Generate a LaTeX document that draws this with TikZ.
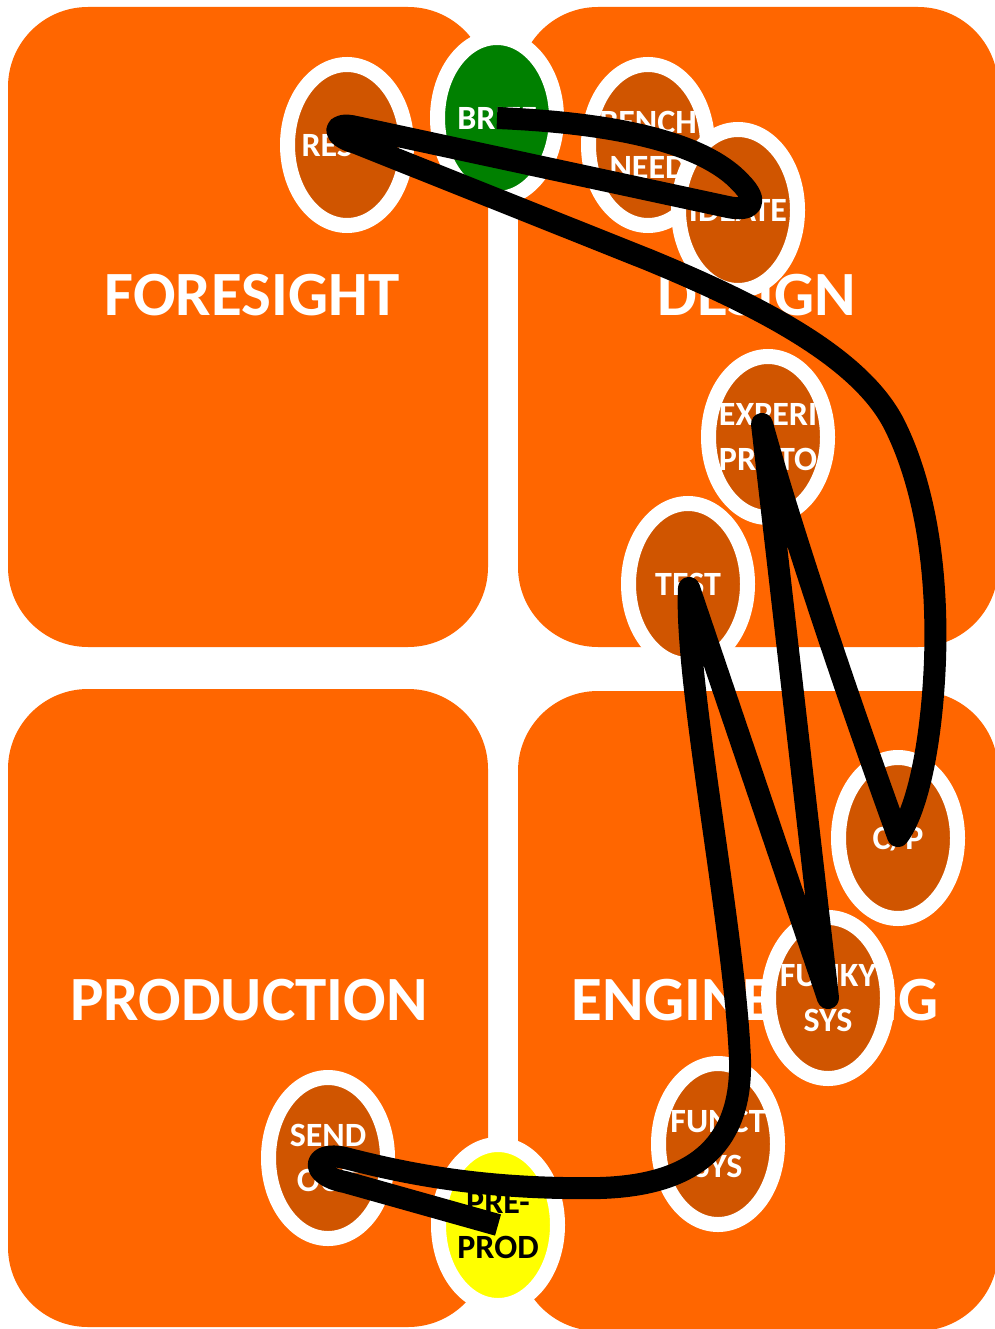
\documentclass[tikz,border=0pt]{standalone}
\usepackage{fontspec}
\setmainfont{Carlito}
\usetikzlibrary{shapes.geometric}
\definecolor{quadorange}{HTML}{FF6600}
\definecolor{stagerust}{HTML}{D05500}
\definecolor{briefgreen}{HTML}{008000}
\definecolor{prodyellow}{HTML}{FFFF00}

\begin{document}
\begin{tikzpicture}[x=1pt,y=-1pt]
	\tikzset{
		quad/.style={fill=quadorange, rounded corners=80pt},
		quadlabel/.style={white, font=\fontsize{63}{63}\selectfont\bfseries, anchor=base, inner sep=0pt},
		stage/.style={ellipse, draw=white, line width=15pt, fill=stagerust, minimum width=119pt, minimum height=161pt, inner sep=0pt},
		stagetext/.style={white, font=\fontsize{34}{45}\selectfont\bfseries, align=center, inner sep=0pt},
		scribble/.style={line width=22pt, line join=round}
	}
	\useasboundingbox[fill=white] (0,0) rectangle (994,1329);

	% the four quadrants
	\fill[quad] (8,7) rectangle (488,647);
	\fill[quad] (518,7) rectangle (998,647);
	\fill[quad] (8,689) rectangle (488,1327);
	\fill[quad] (518,691) rectangle (998,1331);

	\node[quadlabel] (foresight) at (252,316) {FORESIGHT};
	\node[quadlabel] (design) at (757,316) {DESIGN};
	\node[quadlabel] (production) at (249,1020) {PRODUCTION};
	\node[quadlabel] (engineering) at (755,1020) {ENGINEERING};

	% the stages
	\node[stage] (res) at (347,145) {};
	\node[stage, fill=briefgreen] (brief) at (497,118) {};
	\node[stage] (bench) at (648,145) {};
	\node[stage] (ideate) at (738,210) {};
	\node[stage] (experi) at (768,437) {};
	\node[stage] (test) at (688,584) {};
	\node[stage] (cp) at (898,838) {};
	\node[stage] (funky) at (828,998) {};
	\node[stage] (funct) at (718,1144) {};
	\node[stage] (send) at (328,1158) {};
	\node[stage, fill=prodyellow] (preprod) at (498,1225) {};

	\node[stagetext] (t res) at (res) {RESCH};
	\node[stagetext] (t brief) at (brief) {BRIEF};
	\node[stagetext] (t bench) at (bench) {BENCH\\NEED};
	\node[stagetext] (t ideate) at (ideate) {IDEATE};
	\node[stagetext] (t experi) at (experi) {EXPERI\\PROTO};
	\node[stagetext] (t test) at (test) {TEST};
	\node[stagetext] (t cp) at (cp) {C/P};
	\node[stagetext] (t funky) at (funky) {FUNKY\\SYS};
	\node[stagetext] (t funct) at (funct) {FUNCT\\SYS};
	\node[stagetext] (t send) at (send) {SEND\\OUT};
	\node[stagetext, black] (t preprod) at (preprod) {PRE-\\PROD};

	\coordinate (cp tip) at (898,836);
	\coordinate (experi tip) at (762,424);
	\coordinate (funky tip) at (828,998);
	\coordinate (test tip) at (689,588);

	\draw[scribble] (brief.center) .. controls (640,124) and (710,150) .. (740,182)
		.. controls (760,202) and (752,212) .. (728,207) -- (356,127)
		.. controls (332,121) and (330,136) .. (356,143) -- (649,260)
		.. controls (765,308) and (864,360) .. (896,428)
		.. controls (925,488) and (938,570) .. (935,660)
		.. controls (932,740) and (918,810) .. (cp tip)
		.. controls (865,745) and (800,560) .. (experi tip)
		-- (funky tip) -- (test tip)
		.. controls (684,680) and (735,930) .. (740,1060)
		.. controls (742,1140) and (700,1185) .. (600,1188)
		.. controls (480,1190) and (400,1172) .. (345,1158)
		.. controls (312,1150) and (308,1175) .. (345,1182) -- (preprod.center);

\end{tikzpicture}
\end{document}
